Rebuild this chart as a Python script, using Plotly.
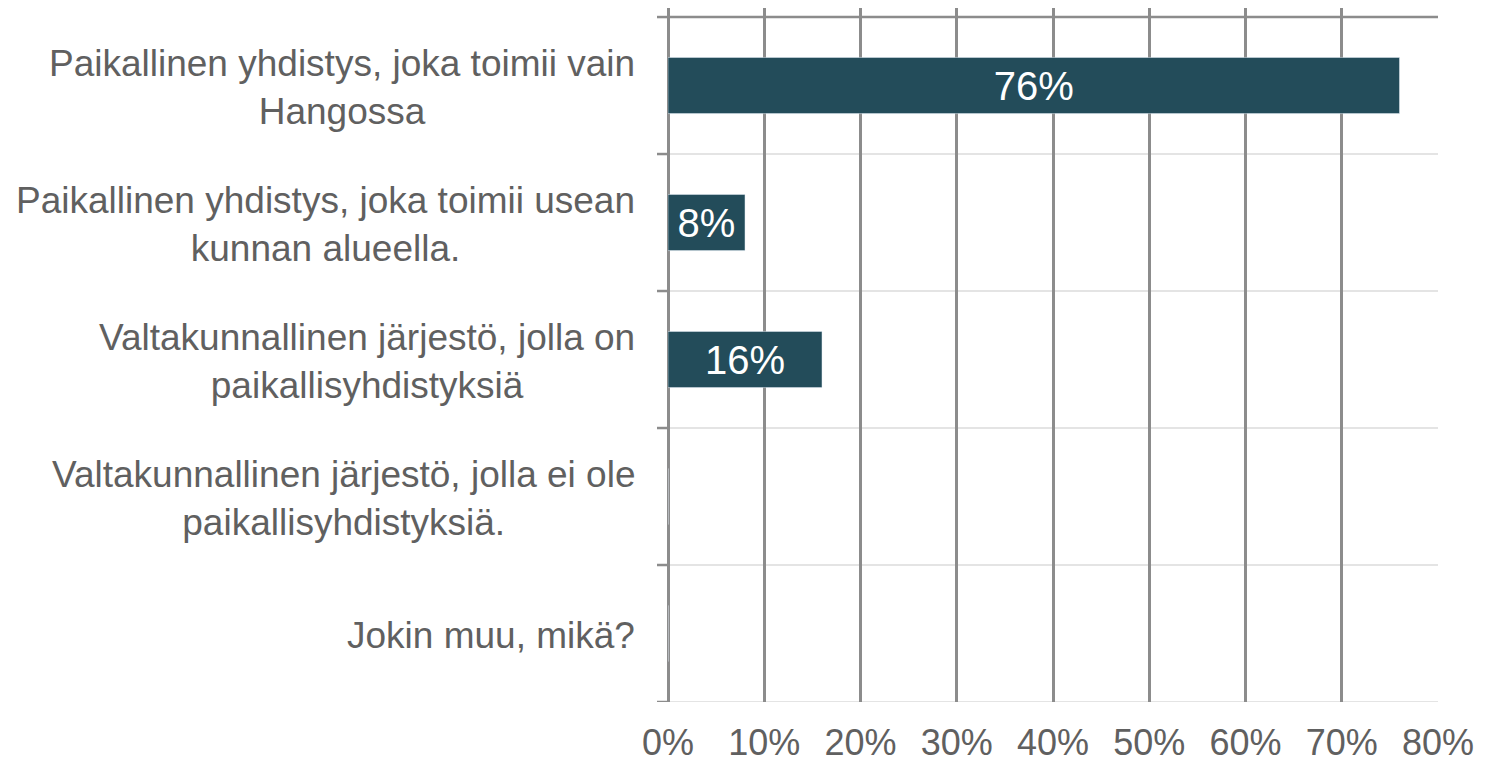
import plotly.graph_objects as go

categories = [
    "Paikallinen yhdistys, joka toimii vain<br>Hangossa",
    "Paikallinen yhdistys, joka toimii usean<br>kunnan alueella.",
    "Valtakunnallinen järjestö, jolla on<br>paikallisyhdistyksiä",
    "Valtakunnallinen järjestö, jolla ei ole<br>paikallisyhdistyksiä.",
    "Jokin muu, mikä?",
]
values = [76, 8, 16, 0, 0]
x_ticks = [0, 10, 20, 30, 40, 50, 60, 70, 80]
x_tick_labels = [f"{t}%" for t in x_ticks]

FONT = "Liberation Sans, Arial, sans-serif"
GRID = "#8c8c8c"
LIGHT = "#e4e4e4"
TEXT = "#606060"
BAR = "#234c5a"

pos = list(range(len(categories)))

fig = go.Figure()
fig.add_trace(
    go.Bar(
        x=values,
        y=pos,
        orientation="h",
        marker_color=BAR,
        width=0.41,
        text=[f"{v}%" if v else "" for v in values],
        textposition="inside",
        insidetextanchor="middle",
        textfont=dict(family=FONT, size=40, color="white"),
        constraintext="none",
        hoverinfo="skip",
    )
)

# category labels: right-aligned block, centred lines
for i, cat in enumerate(categories):
    fig.add_annotation(
        x=0, y=i, xref="x", yref="y",
        text=cat, showarrow=False,
        xanchor="right", yanchor="middle", align="center",
        xshift=-31, yshift=-2,
        font=dict(family=FONT, size=37, color=TEXT),
    )

shapes = []
# boundaries between categories
for k in range(len(categories) + 1):
    yb = k - 0.5
    color = GRID if k == 0 else LIGHT
    shapes.append(dict(type="line", xref="x", yref="y", x0=0, x1=80, y0=yb, y1=yb,
                       line=dict(color=color, width=2.5 if k == 0 else 2), layer="below"))
    # small tick marks left of the axis
    shapes.append(dict(type="line", xref="paper", yref="y", x0=-11 / 770, x1=0, y0=yb, y1=yb,
                       line=dict(color=GRID, width=2.5), layer="above"))

# the page body has an 8px margin, so the figure is 8px smaller than the window
fig.update_layout(
    width=1479,
    height=756,
    margin=dict(l=660, r=49, t=0, b=62),
    paper_bgcolor="white",
    plot_bgcolor="white",
    showlegend=False,
    shapes=shapes,
    font=dict(family=FONT, size=36, color=TEXT),
    bargap=0.59,
)
fig.update_xaxes(
    range=[0, 80],
    tickvals=x_ticks,
    ticktext=x_tick_labels,
    showgrid=True,
    gridcolor=GRID,
    gridwidth=2.5,
    zeroline=True,
    zerolinecolor=GRID,
    zerolinewidth=2.5,
    showline=False,
    ticks="",
    ticklabelstandoff=16,
    automargin=False,
    tickfont=dict(family=FONT, size=36, color=TEXT),
)
fig.update_yaxes(
    range=[4.5, -0.566],
    showgrid=False,
    zeroline=False,
    showticklabels=False,
    ticks="",
)

fig.write_html("out.html")
